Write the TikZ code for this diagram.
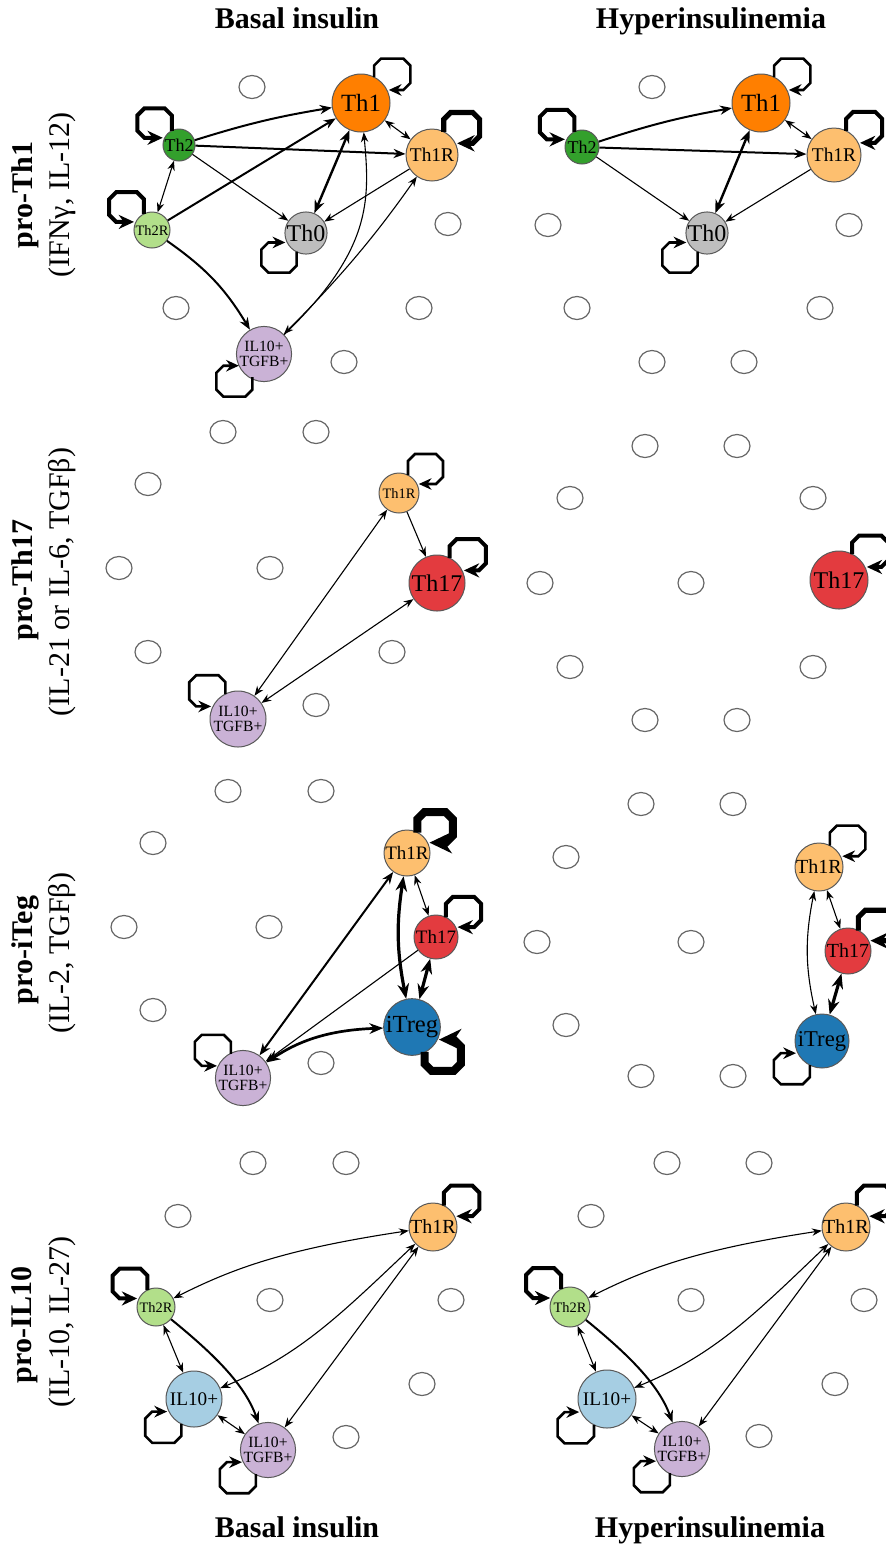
\documentclass[tikz,border=0pt]{standalone}
\usepackage{fontspec}
\setmainfont{Liberation Serif}
\usetikzlibrary{arrows.meta,shapes.geometric}

\definecolor{cTh1}{HTML}{FF7F00}
\definecolor{cTh1R}{HTML}{FDBF6F}
\definecolor{cTh2}{HTML}{33A02C}
\definecolor{cTh2R}{HTML}{B2DF8A}
\definecolor{cTh0}{HTML}{BEBEBE}
\definecolor{cTh17}{HTML}{E33B3F}
\definecolor{ciTreg}{HTML}{1F78B4}
\definecolor{cIL10}{HTML}{A6CEE3}
\definecolor{cIL}{HTML}{CAB2D6}

\newcommand{\fs}[1]{\fontsize{#1}{#1}\selectfont}
% self loop: [style]{node}{radius}{xscale}{yscale}
\newcommand{\selfloop}[5][]{%
  \begin{scope}[shift={(#2.center)},xscale=#4,yscale=#5]
    \draw[loopline,#1] ({0.45*#3},{-0.89*#3}) -- ({0.45*#3},{-0.6*#3-20})
      -- ({0.45*#3+7},{-0.6*#3-27}) -- ({0.6*#3+25},{-0.6*#3-27})
      -- ({0.6*#3+32},{-0.6*#3-20}) -- ({0.6*#3+32},{-0.45*#3-7})
      -- ({0.6*#3+25},{-0.45*#3}) -- ({0.89*#3+2},{-0.45*#3});
  \end{scope}}

\begin{document}
\begin{tikzpicture}[x=0.5pt,y=-0.5pt,
    >={Stealth[length=3.5pt 2.5,width=2.6pt 2]},
    cell/.style={circle,draw=black!65,line width=0.5pt,inner sep=0pt,text=black,align=center},
    ghost/.style={ellipse,draw=black!60,line width=0.6pt,minimum width=13pt,minimum height=11.5pt,inner sep=0pt},
    thinE/.style={line width=0.55pt},
    midE/.style={line width=1pt},
    thickE/.style={line width=1.6pt},
    loopline/.style={-{Stealth[length=4pt 1.8,width=3.4pt 1.8]},line width=1.3pt},
    loopB/.style={line width=2pt},
    loopC/.style={line width=2.6pt},
    loopD/.style={line width=4pt},
    head/.style={font=\bfseries\fs{15},anchor=base},
    rowlab/.style={rotate=90,font=\bfseries\fs{15}},
    sublab/.style={rotate=90,font=\fs{15}}]
\useasboundingbox (0,0) rectangle (886,1544);

% headers and row labels
\node[head] (topB) at (297,28) {Basal insulin};
\node[head] (topH) at (711,28) {Hyperinsulinemia};
\node[head] (botB) at (297,1537) {Basal insulin};
\node[head] (botH) at (710,1537) {Hyperinsulinemia};
\node[rowlab] (row1) at (25,195) {pro-Th1};
\node[sublab] (sub1) at (62,195) {(IFNγ, IL-12)};
\node[rowlab] (row2) at (25,580) {pro-Th17};
\node[sublab] (sub2) at (62,582) {(IL-21 or IL-6, TGFβ)};
\node[rowlab] (row3) at (25,950) {pro-iTeg};
\node[sublab] (sub3) at (62,953) {(IL-2, TGFβ)};
\node[rowlab] (row4) at (25,1325) {pro-IL10};
\node[sublab] (sub4) at (62,1322) {(IL-10, IL-27)};

% empty places
\foreach \x/\y [count=\i] in {252/87,448/224,176/308,419/308,344/362}
  \node[ghost] (aO\i) at (\x,\y) {};
\foreach \x/\y [count=\i] in {652/87,548/225,849/225,577/308,820/308,652/362,744/362}
  \node[ghost] (bO\i) at (\x,\y) {};
\foreach \x/\y [count=\i] in {223/432,316/432,148/484,119/568,270/568,148/652,392/652,316/705}
  \node[ghost] (cO\i) at (\x,\y) {};
\foreach \x/\y [count=\i] in {645/446,737/446,570/498,813/498,540/583,691/583,570/667,813/667,645/720,737/720}
  \node[ghost] (dO\i) at (\x,\y) {};
\foreach \x/\y [count=\i] in {228/791,321/791,153/843,124/927,269/927,153/1010,321/1063}
  \node[ghost] (eO\i) at (\x,\y) {};
\foreach \x/\y [count=\i] in {641/804,733/804,566/857,537/942,691/942,566/1025,641/1076,733/1076}
  \node[ghost] (fO\i) at (\x,\y) {};
\foreach \x/\y [count=\i] in {253/1163,346/1163,178/1216,270/1300,451/1300,422/1384,346/1437}
  \node[ghost] (gO\i) at (\x,\y) {};
\foreach \x/\y [count=\i] in {667/1163,759/1163,591/1216,691/1300,864/1300,835/1384,759/1436}
  \node[ghost] (hO\i) at (\x,\y) {};

% basal, pro-Th1
\node[cell,fill=cTh1,minimum size=29pt,font=\fs{12.4}] (aTh1) at (361,103) {Th1};
\node[cell,fill=cTh2,minimum size=16pt,font=\fs{9}] (aTh2) at (179,145) {Th2};
\node[cell,fill=cTh1R,minimum size=26pt,font=\fs{9.7}] (aTh1R) at (432,155) {Th1R};
\node[cell,fill=cTh2R,minimum size=18pt,font=\fs{7.2}] (aTh2R) at (152,230) {Th2R};
\node[cell,fill=cTh0,minimum size=21pt,font=\fs{12}] (aTh0) at (306,233) {Th0};
\node[cell,fill=cIL,minimum size=26pt,font=\fs{7.8}] (aIL) at (264,354) {IL10+\\TGFB+};
\draw[midE,->] (aTh2) to[bend left=4] (aTh1);
\draw[midE,->] (aTh2) -- (aTh1R);
\draw[thinE,->] (aTh2) -- (aTh0);
\draw[thinE,<->] (aTh2) -- (aTh2R);
\draw[midE,->] (aTh2R) -- (aTh1);
\draw[midE,->] (aTh2R) to[bend left=12] (aIL);
\draw[thinE,<->] (aTh1) -- (aTh1R);
\draw[line width=1.2pt,<->] (aTh1) -- (aTh0);
\draw[thinE,->] (aTh1R) -- (aTh0);
\draw[thinE,<->] (aTh1R) .. controls (385,222) and (350,268) .. (aIL);
\draw[thinE,->] (aIL) .. controls (372,250) and (370,200) .. (aTh1);
\selfloop{aTh1}{29}{1}{1}
\selfloop[loopB]{aTh2}{16}{-1}{1}
\selfloop[loopC]{aTh1R}{26}{1}{1}
\selfloop[loopB]{aTh2R}{18}{-1}{1}
\selfloop{aTh0}{21}{-1}{-1}
\selfloop{aIL}{26}{-1}{-1}

% hyperinsulinemia, pro-Th1
\node[cell,fill=cTh1,minimum size=29pt,font=\fs{12.4}] (bTh1) at (761,103) {Th1};
\node[cell,fill=cTh2,minimum size=17pt,font=\fs{9}] (bTh2) at (582,147) {Th2};
\node[cell,fill=cTh1R,minimum size=27pt,font=\fs{9.7}] (bTh1R) at (834,155) {Th1R};
\node[cell,fill=cTh0,minimum size=21pt,font=\fs{12}] (bTh0) at (707,233) {Th0};
\draw[midE,->] (bTh2) to[bend left=4] (bTh1);
\draw[midE,->] (bTh2) -- (bTh1R);
\draw[thinE,->] (bTh2) -- (bTh0);
\draw[thinE,<->] (bTh1) -- (bTh1R);
\draw[line width=1.2pt,<->] (bTh1) -- (bTh0);
\draw[thinE,->] (bTh1R) -- (bTh0);
\selfloop{bTh1}{29}{1}{1}
\selfloop[loopB]{bTh2}{17}{-1}{1}
\selfloop[loopB]{bTh1R}{27}{1}{1}
\selfloop{bTh0}{21}{-1}{-1}

% basal, pro-Th17
\node[cell,fill=cTh1R,minimum size=20pt,font=\fs{7.2}] (cTh1R) at (399,493) {Th1R};
\node[cell,fill=cTh17,minimum size=28pt,font=\fs{12}] (cTh17) at (437,583) {Th17};
\node[cell,fill=cIL,minimum size=28pt,font=\fs{7.8}] (cIL) at (238,719) {IL10+\\TGFB+};
\draw[thinE,->] (cTh1R) -- (cTh17);
\draw[thinE,<->] (cTh1R) -- (cIL);
\draw[thinE,<->] (cTh17) -- (cIL);
\selfloop{cTh1R}{20}{1}{1}
\selfloop[loopB]{cTh17}{28}{1}{1}
\selfloop{cIL}{28}{-1}{1}

% hyperinsulinemia, pro-Th17
\node[cell,fill=cTh17,minimum size=29pt,font=\fs{12}] (dTh17) at (839,580) {Th17};
\selfloop[loopB]{dTh17}{29}{1}{1}

% basal, pro-iTreg
\node[cell,fill=cTh1R,minimum size=23pt,font=\fs{9.5}] (eTh1R) at (407,853) {Th1R};
\node[cell,fill=cTh17,minimum size=22pt,font=\fs{9.5}] (eTh17) at (436,937) {Th17};
\node[cell,fill=ciTreg,minimum size=28pt,font=\fs{12.3}] (eiTreg) at (412,1027) {iTreg};
\node[cell,fill=cIL,minimum size=27pt,font=\fs{7.8}] (eIL) at (243,1078) {IL10+\\TGFB+};
\draw[midE,<->] (eTh1R) -- (eIL);
\draw[thinE,<->] (eTh1R) -- (eTh17);
\draw[thickE,<->] (eTh1R) to[bend right=10] (eiTreg);
\draw[thickE,<->] (eTh17) -- (eiTreg);
\draw[thinE,->] (eTh17) -- (eIL);
\draw[line width=1.35pt,<->] (eiTreg) .. controls (330,1030) and (300,1040) .. (eIL);
\selfloop[loopD]{eTh1R}{23}{1}{1}
\selfloop[loopB]{eTh17}{22}{1}{1}
\selfloop[loopD]{eiTreg}{28}{1}{-1}
\selfloop{eIL}{27}{-1}{1}

% hyperinsulinemia, pro-iTreg
\node[cell,fill=cTh1R,minimum size=24pt,font=\fs{10}] (fTh1R) at (819,867) {Th1R};
\node[cell,fill=cTh17,minimum size=23pt,font=\fs{10}] (fTh17) at (848,951) {Th17};
\node[cell,fill=ciTreg,minimum size=27pt,font=\fs{11.3}] (fiTreg) at (822,1041) {iTreg};
\draw[thinE,<->] (fTh1R) -- (fTh17);
\draw[thinE,<->] (fTh1R) to[bend right=12] (fiTreg);
\draw[thickE,<->] (fTh17) -- (fiTreg);
\selfloop{fTh1R}{24}{1}{1}
\selfloop[loopC]{fTh17}{23}{1}{1}
\selfloop{fiTreg}{27}{-1}{-1}

% basal, pro-IL10
\node[cell,fill=cTh1R,minimum size=24pt,font=\fs{10}] (gTh1R) at (433,1227) {Th1R};
\node[cell,fill=cTh2R,minimum size=19pt,font=\fs{7.2}] (gTh2R) at (156,1307) {Th2R};
\node[cell,fill=cIL10,minimum size=28pt,font=\fs{9.6}] (gIL10) at (194,1399) {IL10+};
\node[cell,fill=cIL,minimum size=27pt,font=\fs{7.8}] (gIL) at (268,1450) {IL10+\\TGFB+};
\draw[thinE,<->] (gTh2R) .. controls (230,1270) and (280,1250) .. (gTh1R);
\draw[thinE,<->] (gTh2R) -- (gIL10);
\draw[midE,->] (gTh2R) .. controls (215,1355) and (245,1385) .. (gIL);
\draw[thinE,<->] (gIL10) .. controls (300,1355) and (340,1315) .. (gTh1R);
\draw[thinE,<->] (gIL) -- (gTh1R);
\draw[thinE,<->] (gIL10) -- (gIL);
\selfloop[loopB]{gTh1R}{24}{1}{1}
\selfloop[loopB]{gTh2R}{19}{-1}{1}
\selfloop{gIL10}{28}{-1}{-1}
\selfloop{gIL}{27}{-1}{-1}

% hyperinsulinemia, pro-IL10
\node[cell,fill=cTh1R,minimum size=24pt,font=\fs{10}] (hTh1R) at (846,1227) {Th1R};
\node[cell,fill=cTh2R,minimum size=20pt,font=\fs{7.2}] (hTh2R) at (570,1307) {Th2R};
\node[cell,fill=cIL10,minimum size=29pt,font=\fs{9.6}] (hIL10) at (607,1399) {IL10+};
\node[cell,fill=cIL,minimum size=27pt,font=\fs{7.8}] (hIL) at (682,1449) {IL10+\\TGFB+};
\draw[thinE,<->] (hTh2R) .. controls (644,1270) and (694,1250) .. (hTh1R);
\draw[thinE,<->] (hTh2R) -- (hIL10);
\draw[midE,->] (hTh2R) .. controls (629,1355) and (659,1385) .. (hIL);
\draw[thinE,<->] (hIL10) .. controls (714,1355) and (754,1315) .. (hTh1R);
\draw[thinE,<->] (hIL) -- (hTh1R);
\draw[thinE,<->] (hIL10) -- (hIL);
\selfloop[loopB]{hTh1R}{24}{1}{1}
\selfloop[loopB]{hTh2R}{20}{-1}{1}
\selfloop{hIL10}{29}{-1}{-1}
\selfloop{hIL}{27}{-1}{-1}
\end{tikzpicture}
\end{document}
